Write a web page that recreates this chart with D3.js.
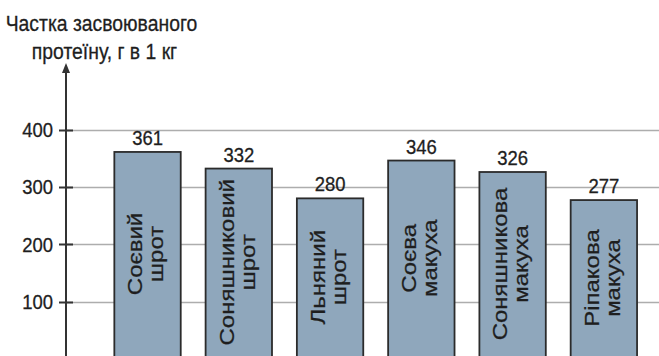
<!DOCTYPE html>
<html>
<head>
<meta charset="utf-8">
<script src="https://cdn.jsdelivr.net/npm/d3@7"></script>
<style>
  html, body { margin: 0; padding: 0; background: #fff; }
  svg { display: block; }
  text { font-family: "Liberation Sans", Arial, sans-serif; fill: #1e1e1e; stroke: #1e1e1e; stroke-width: 0.3px; }
</style>
</head>
<body>
<svg id="chart" width="659" height="356"></svg>
<script>
// Feed types (two-line labels) and digestible protein per kg
const categories = [
  ["Соєвий", "шрот"],
  ["Соняшниковий", "шрот"],
  ["Льняний", "шрот"],
  ["Соєва", "макуха"],
  ["Соняшникова", "макуха"],
  ["Ріпакова", "макуха"]
];
const values = [361, 332, 280, 346, 326, 277];
const yTicks = [100, 200, 300, 400];
const titleLines = ["Частка засвоюваного", "протеїну, г в 1 кг"];

const W = 659, H = 356;
const axisX = 66;
const squeeze = 0.88; // horizontal narrowing of the lettering

const svg = d3.select("#chart");

const x = d3.scaleBand()
  .domain(d3.range(values.length))
  .range([101.9, 649.5])
  .paddingInner(0.2726)
  .paddingOuter(0.1363);

const y = d3.scaleLinear()
  .domain([0, 400])
  .range([358.8, 129.6]);

// horizontal gridlines
svg.append("g")
  .selectAll("line")
  .data(yTicks)
  .join("line")
  .attr("x1", axisX)
  .attr("x2", W)
  .attr("y1", d => Math.round(y(d)) + 0.5)
  .attr("y2", d => Math.round(y(d)) + 0.5)
  .attr("stroke", "#adadad")
  .attr("stroke-width", 1.3);

// bars
svg.append("g")
  .selectAll("rect")
  .data(values)
  .join("rect")
  .attr("x", (d, i) => x(i))
  .attr("y", d => y(d))
  .attr("width", x.bandwidth())
  .attr("height", d => y(0) - y(d) + 4)
  .attr("fill", "#8fa7bc")
  .attr("stroke", "#2b2b2b")
  .attr("stroke-width", 1.8);

// value labels above the bars
svg.append("g")
  .selectAll("text")
  .data(values)
  .join("text")
  .attr("transform", (d, i) =>
    `translate(${x(i) + x.bandwidth() / 2},${y(d) - 7}) scale(${squeeze},1)`)
  .attr("text-anchor", "middle")
  .attr("font-size", 21)
  .text(d => d);

// rotated category names inside the bars
const names = svg.append("g")
  .selectAll("text")
  .data(categories)
  .join("text")
  .attr("transform", (d, i) => {
    const cx = x(i) + x.bandwidth() / 2;
    const cy = (y(values[i]) + H) / 2;
    return `translate(${cx},${cy}) scale(${squeeze},1) rotate(-90)`;
  })
  .attr("text-anchor", "middle")
  .attr("font-size", 24);

names.selectAll("tspan")
  .data(d => d)
  .join("tspan")
  .attr("x", 0)
  .attr("y", (d, j) => j === 0 ? -6 : 18)
  .text(d => d);

// y axis with arrow
svg.append("line")
  .attr("x1", axisX).attr("x2", axisX)
  .attr("y1", 70).attr("y2", H + 2)
  .attr("stroke", "#333")
  .attr("stroke-width", 2);

svg.append("path")
  .attr("d", d3.line()([[axisX, 63], [axisX - 4, 73], [axisX + 4, 73]]) + "Z")
  .attr("fill", "#333");

// tick marks
svg.append("g")
  .selectAll("line")
  .data(yTicks)
  .join("line")
  .attr("x1", 59)
  .attr("x2", 73)
  .attr("y1", d => Math.round(y(d)) + 0.5)
  .attr("y2", d => Math.round(y(d)) + 0.5)
  .attr("stroke", "#333")
  .attr("stroke-width", 2);

// tick labels
svg.append("g")
  .selectAll("text")
  .data(yTicks)
  .join("text")
  .attr("transform", d => `translate(53,${y(d) + 7.5}) scale(${squeeze},1)`)
  .attr("text-anchor", "end")
  .attr("font-size", 21)
  .text(d => d);

// axis title
svg.append("g")
  .selectAll("text")
  .data(titleLines)
  .join("text")
  .attr("transform", (d, i) => `translate(${i === 0 ? 101.5 : 104.5},${31 + i * 27.5}) scale(${squeeze},1)`)
  .attr("text-anchor", "middle")
  .attr("font-size", 22)
  .text(d => d);
</script>
</body>
</html>
